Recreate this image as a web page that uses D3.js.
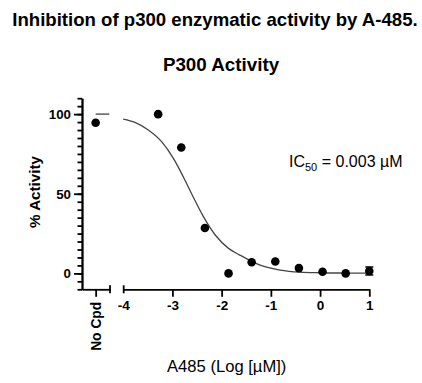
<!DOCTYPE html>
<html>
<head>
<meta charset="utf-8">
<script src="https://cdn.jsdelivr.net/npm/d3@7"></script>
<style>
  html, body { margin: 0; padding: 0; background: #fff; }
  svg { display: block; font-family: "Liberation Sans", Arial, sans-serif; }
</style>
</head>
<body>
<svg id="chart" width="422" height="383"></svg>
<script>
// ---- data ----
const titleText = "Inhibition of p300 enzymatic activity by A-485.";
const subtitleText = "P300 Activity";
const yTitle = "% Activity";
const xTitle = "A485 (Log [µM])";
const noCpdLabel = "No Cpd";
const noCpdLog = -6;           // nominal position of the no-compound control
const noCpdValue = 94.6;
const leftCurveLog = [-6, -5.05];
const leftCurveVal = [100, 100];
const concLog = [-3.29, -2.82, -2.34, -1.86, -1.39, -0.91, -0.43, 0.05, 0.52, 1.0];
const activity = [100, 79, 28.5, 0, 7, 7.5, 3.3, 1.0, 0, 1.5];
const activityErr = [0, 0, 0, 0, 0, 0, 0, 0, 0, 2.5];
const curveLog = [-4.0, -3.76, -3.49, -3.22, -2.98, -2.78, -2.58, -2.37, -2.13, -1.86, -1.63, -1.22, -0.81, -0.41, 0, 0.5, 1.0];
const curveVal = [96.9, 94.8, 90.0, 82.7, 72.2, 60.7, 48.1, 35.6, 24.1, 15.7, 11.5, 5.2, 2.1, 0.8, 0.4, 0.2, 0.1];
const yMajorTicks = [0, 50, 100];
const yMinorTicks = d3.range(-10, 111, 5);
const xTicks = [-4, -3, -2, -1, 0, 1];
const xTickLabels = ["-4", "-3", "-2", "-1", "0", "1"];
const icLabel = { pre: "IC", sub: "50", post: " = 0.003 µM" };

// ---- layout ----
const svg = d3.select("#chart");
const y = d3.scaleLinear().domain([-10, 110]).range([289.3, 98.2]);
const xL = d3.scaleLinear().domain([-6.95, -5]).range([82, 110]);
const xR = d3.scaleLinear().domain([-4, 1]).range([123.2, 369.3]);
const axisY0 = y(-10);

// titles
svg.append("text").attr("x", 215).attr("y", 25.5).attr("text-anchor", "middle")
  .style("font-size", "18.6px").style("font-weight", "bold").text(titleText);
svg.append("text").attr("x", 221).attr("y", 70.5).attr("text-anchor", "middle")
  .style("font-size", "18.8px").style("font-weight", "bold").text(subtitleText);

// Y axis minor ticks
const gyMinor = svg.append("g").attr("transform", "translate(82,0)")
  .call(d3.axisLeft(y).tickValues(yMinorTicks).tickSize(4.5).tickSizeOuter(0).tickFormat(""));
// Y axis major ticks
const gy = svg.append("g").attr("transform", "translate(82,0)")
  .call(d3.axisLeft(y).tickValues(yMajorTicks).tickSize(8).tickSizeOuter(0).tickPadding(3));
[gyMinor, gy].forEach(g => {
  g.selectAll("path.domain").attr("stroke", "#000").attr("stroke-width", 1.8);
  g.selectAll(".tick line").attr("stroke", "#000").attr("stroke-width", 1.8);
});
gy.selectAll(".tick text").style("font-size", "13.3px").style("font-weight", "bold")
  .style("font-family", "'Liberation Sans', Arial, sans-serif").attr("fill", "#000");

// X axis left segment (No Cpd)
const gxL = svg.append("g").attr("transform", `translate(0,${axisY0})`)
  .call(d3.axisBottom(xL).tickValues([noCpdLog]).tickSize(7.5).tickSizeOuter(0).tickFormat(() => noCpdLabel));
gxL.selectAll(".tick text")
  .attr("transform", "rotate(-90)")
  .attr("x", -12.5).attr("y", 0).attr("dy", "0.35em")
  .attr("text-anchor", "end")
  .style("font-size", "13.8px").style("font-weight", "bold")
  .style("font-family", "'Liberation Sans', Arial, sans-serif").attr("fill", "#000");

// X axis right segment
const gxR = svg.append("g").attr("transform", `translate(0,${axisY0})`)
  .call(d3.axisBottom(xR).tickValues(xTicks).tickSize(7.5).tickSizeOuter(0).tickPadding(4)
    .tickFormat((d, i) => xTickLabels[i]));
gxR.selectAll(".tick text").style("font-size", "13.5px").style("font-weight", "bold")
  .style("font-family", "'Liberation Sans', Arial, sans-serif").attr("fill", "#000");
gxR.selectAll(".tick").filter(d => d === xTicks[0]).select("line").attr("y1", -4).attr("y2", 4);
[gxL, gxR].forEach(g => {
  g.selectAll("path.domain").attr("stroke", "#000").attr("stroke-width", 1.8);
  g.selectAll(".tick line").attr("stroke", "#000").attr("stroke-width", 1.8);
});
// break cap at end of left segment
svg.append("line").attr("x1", xL(-5)).attr("x2", xL(-5))
  .attr("y1", axisY0 - 4).attr("y2", axisY0 + 4).attr("stroke", "#000").attr("stroke-width", 1.8);

// axis titles
svg.append("text").attr("transform", `translate(40,192) rotate(-90)`).attr("text-anchor", "middle")
  .style("font-size", "15.2px").style("font-weight", "bold").text(yTitle);
svg.append("text").attr("x", 226.7).attr("y", 372).attr("text-anchor", "middle")
  .style("font-size", "16.6px").text(xTitle);

// fitted curve
const lineR = d3.line().x(d => xR(d[0])).y(d => y(d[1])).curve(d3.curveMonotoneX);
svg.append("path").datum(curveLog.map((v, i) => [v, curveVal[i]]))
  .attr("d", lineR).attr("fill", "none").attr("stroke", "#444").attr("stroke-width", 1.3);
const lineL = d3.line().x(d => xL(d[0])).y(d => y(d[1]));
svg.append("path").datum(leftCurveLog.map((v, i) => [v, leftCurveVal[i]]))
  .attr("d", lineL).attr("fill", "none").attr("stroke", "#666").attr("stroke-width", 1.6);

// error bars
const pts = concLog.map((v, i) => ({ x: v, y: activity[i], e: activityErr[i] }));
const eb = svg.append("g");
pts.filter(d => d.e > 0).forEach(d => {
  eb.append("line").attr("x1", xR(d.x)).attr("x2", xR(d.x))
    .attr("y1", y(d.y + d.e)).attr("y2", y(d.y - d.e)).attr("stroke", "#000").attr("stroke-width", 1.5);
  [d.y + d.e, d.y - d.e].forEach(v => eb.append("line")
    .attr("x1", xR(d.x) - 4).attr("x2", xR(d.x) + 4).attr("y1", y(v)).attr("y2", y(v))
    .attr("stroke", "#000").attr("stroke-width", 1.5));
});

// points
svg.append("g").selectAll("circle").data(pts).join("circle")
  .attr("cx", d => xR(d.x)).attr("cy", d => y(d.y)).attr("r", 4.3).attr("fill", "#000");
svg.append("circle").attr("cx", xL(noCpdLog)).attr("cy", y(noCpdValue)).attr("r", 4.3).attr("fill", "#000");

// IC50 annotation
const ic = svg.append("text").attr("x", 289).attr("y", 167.3).style("font-size", "16px").attr("fill", "#000");
ic.append("tspan").text(icLabel.pre);
ic.append("tspan").attr("dy", 4).style("font-size", "11px").text(icLabel.sub);
ic.append("tspan").attr("dy", -4).text(icLabel.post);
</script>
</body>
</html>
